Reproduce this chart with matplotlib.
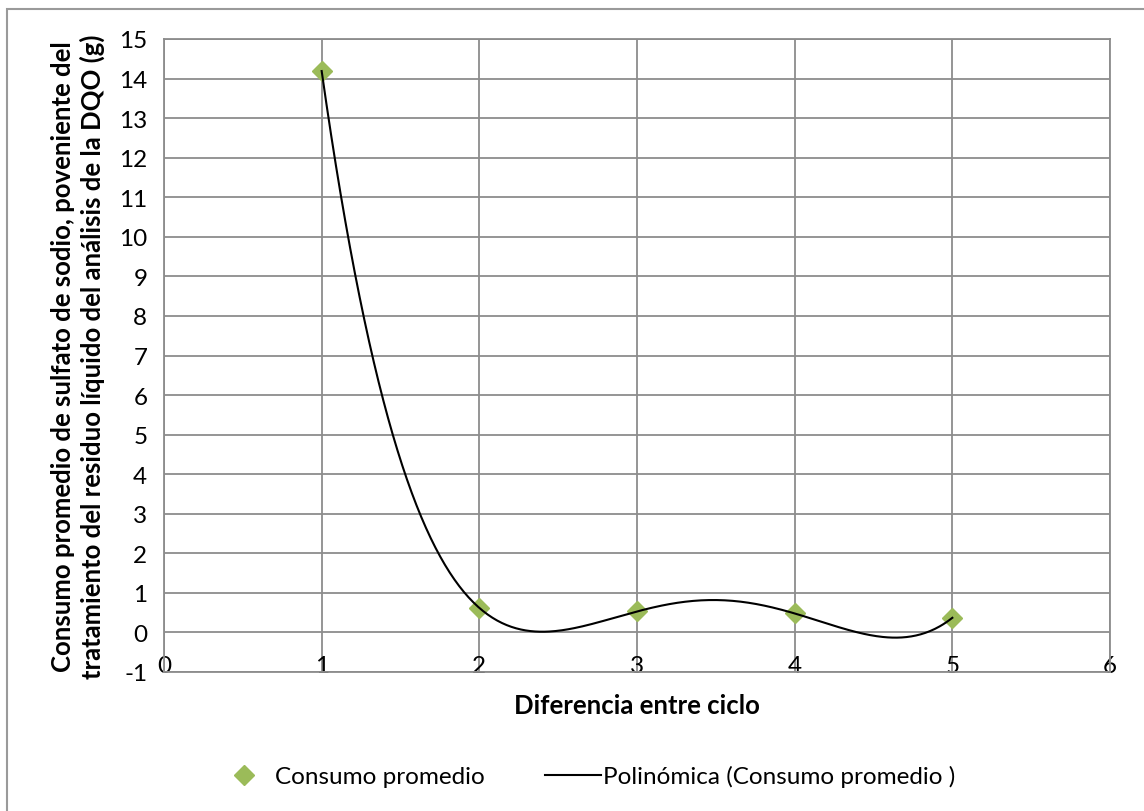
import numpy as np
import matplotlib.pyplot as plt
from matplotlib.patches import Rectangle

plt.rcParams['font.family'] = ['Lato', 'DejaVu Sans']
plt.rcParams['axes.unicode_minus'] = False

# Datos: consumo promedio por diferencia entre ciclo
ciclo = [1, 2, 3, 4, 5]
consumo = [14.19, 0.62, 0.53, 0.48, 0.37]

x_ticks = [0, 1, 2, 3, 4, 5, 6]
y_ticks = list(range(-1, 16))

# Tendencia polinómica (grado 4) sobre los mismos puntos
coef = np.polyfit(ciclo, consumo, 4)
xs = np.linspace(min(ciclo), max(ciclo), 400)
ys = np.polyval(coef, xs)

fig = plt.figure(figsize=(11.44, 8.12), dpi=100)
ax = fig.add_axes([164 / 1144, 1 - 673 / 812, (1110 - 164) / 1144, (673 - 40) / 812])

gris = '#8c8c8c'
ax.plot(ciclo, consumo, linestyle='none', marker='D', markersize=10.5,
        color='#9bbb59', label='Consumo promedio', zorder=3)
ax.plot(xs, ys, color='black', linewidth=1.5,
        label='Polinómica (Consumo promedio )', zorder=4)

ax.set_xlim(0, 6)
ax.set_ylim(-1, 15)
ax.set_xticks(x_ticks)
ax.set_yticks(y_ticks)
ax.grid(True, color=gris, linewidth=1.3)
ax.set_axisbelow(True)
for s in ax.spines.values():
    s.set_color(gris)
    s.set_linewidth(1.3)

ax.tick_params(axis='both', length=0, labelsize=17.5)
ax.tick_params(axis='y', pad=12)
ax.tick_params(axis='x', pad=-12)

ax.set_xlabel('Diferencia entre ciclo', fontsize=18.5, fontweight='bold', labelpad=12)
ax.set_ylabel('Consumo promedio de sulfato de sodio, poveniente del\n'
              'tratamiento del residuo líquido del análisis de la DQO (g)',
              fontsize=18.5, fontweight='bold', labelpad=10, linespacing=1.25)

fig.legend(loc='center', bbox_to_anchor=(586 / 1144, 1 - 777 / 812), ncol=2,
           frameon=False, fontsize=17.5, handlelength=2.3, columnspacing=2.5,
           handletextpad=0.1)

# Marco exterior del gráfico
fig.patches.append(Rectangle((7 / 1144, -0.02), 1.1, 1 - 10 / 812 + 0.02,
                             transform=fig.transFigure, fill=False,
                             edgecolor='#9a9a9a', linewidth=1.5))

fig.savefig('out.png', dpi=100)
